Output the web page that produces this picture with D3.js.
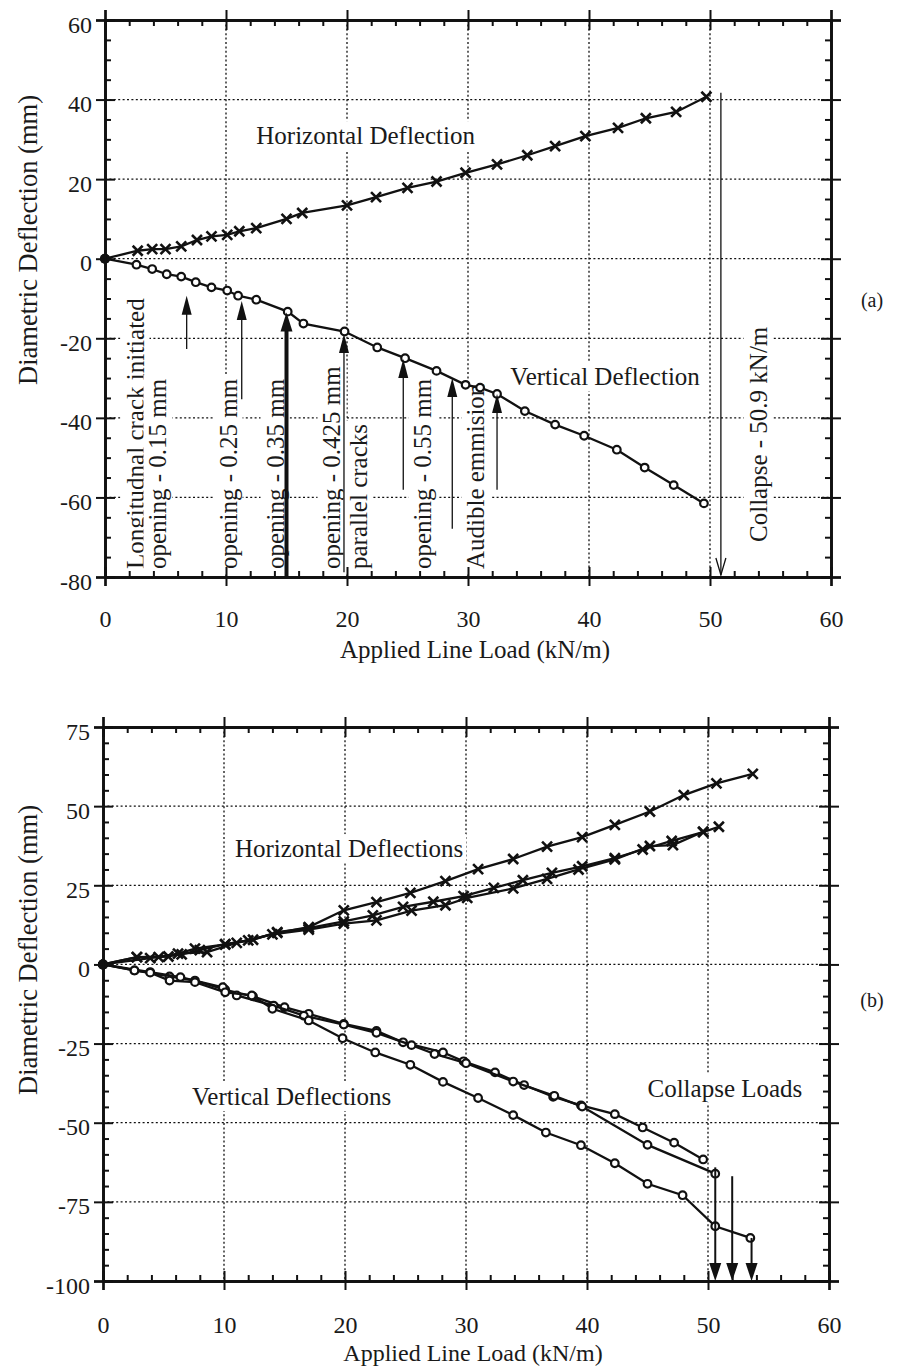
<!DOCTYPE html>
<html>
<head>
<meta charset="utf-8">
<script src="https://cdn.jsdelivr.net/npm/d3@7"></script>
<style>
body { margin: 0; background: #fff; }
svg text { font-family: "Liberation Serif", "Times New Roman", serif; fill: #1a1a1a; }
</style>
</head>
<body>
<svg id="fig" width="912" height="1368"></svg>
<script>
/* ---- panel (a): single test ---- */
var hLoadA = [0, 2.7, 3.9, 5.0, 6.3, 7.6, 8.8, 10.1, 11.1, 12.5, 15.0, 16.3, 20.0, 22.4, 25.0, 27.4, 29.8, 32.4, 34.9, 37.2, 39.7, 42.4, 44.7, 47.2, 49.7];
var hDefA  = [0, 2.0, 2.4, 2.4, 3.1, 4.7, 5.6, 6.0, 6.9, 7.7, 10.0, 11.5, 13.4, 15.5, 17.8, 19.4, 21.6, 23.7, 26.0, 28.3, 30.8, 32.9, 35.3, 36.9, 40.7];
var vLoadA = [0, 2.6, 3.9, 5.1, 6.3, 7.5, 8.8, 10.1, 11.0, 12.5, 15.1, 16.4, 19.8, 22.5, 24.8, 27.4, 29.8, 31.0, 32.4, 34.7, 37.2, 39.6, 42.3, 44.6, 47.0, 49.5];
var vDefA  = [0, -1.5, -2.6, -3.9, -4.5, -5.9, -7.2, -8.0, -9.3, -10.3, -13.3, -16.3, -18.3, -22.3, -25.0, -28.2, -31.7, -32.4, -34.0, -38.3, -41.7, -44.5, -48.0, -52.5, -56.9, -61.5];

// crack observation arrows (load, arrow tip, arrow tail)
var crackLoad = [6.75, 11.3, 15.0, 19.75, 24.65, 28.7, 32.4];
var crackTip  = [-9.3, -10.6, -13.5, -18.9, -25.2, -30.0, -34.0];
var crackTail = [-22.7, -35.3, -80, -78.8, -58.1, -67.9, -58.1];

var noteText  = ["Longitudnal crack initiated", "opening - 0.15 mm", "opening - 0.25 mm", "opening - 0.35 mm",
                 "opening - 0.425 mm", "parallel cracks", "opening - 0.55 mm", "Audible emmision", "Collapse - 50.9 kN/m"];
var noteLoad  = [2.48, 4.38, 10.17, 14.05, 18.76, 20.91, 26.28, 30.66, 53.97];
var noteStart = [-78, -78, -78, -78, -78, -78, -78, -78, -71.2];

var collapseA = {load: 50.9, from: 41.7, to: -79.5};

/* ---- panel (b): three tests ---- */
var bH1 = [[0,0],[2.8,2.3],[4.6,2.3],[6.5,3.2],[8.0,4.5],[10.1,6.4],[12.0,7.6],[14.4,10.0],[17.0,11.8],[19.9,17.1],[22.6,19.7],[25.4,22.6],[28.3,26.3],[31.0,30.1],[33.9,33.3],[36.7,37.2],[39.6,40.2],[42.3,44.1],[45.2,48.3],[48.0,53.5],[50.7,57.2],[53.7,60.2]];
var bH2 = [[0,0],[2.8,2.3],[5.4,2.5],[7.6,5.0],[10.1,6.3],[12.4,7.8],[14.4,10.2],[17.0,11.5],[19.9,13.6],[22.3,15.5],[24.8,18.2],[27.3,19.8],[29.8,21.6],[32.3,24.2],[34.7,26.6],[37.1,28.9],[39.6,31.0],[42.3,33.6],[44.6,36.3],[47.0,39.0],[49.6,41.8],[50.9,43.5]];
var bH3 = [[0,0],[3.9,2.0],[6.2,3.4],[8.6,3.9],[11.05,6.8],[14.0,9.5],[17.0,11.0],[19.9,12.9],[22.6,13.9],[25.5,17.0],[28.3,18.7],[30.1,21.0],[33.9,24.0],[36.7,27.0],[39.3,30.0],[42.3,33.2],[45.2,37.4],[47.1,37.7],[49.6,41.9]];
var bV1 = [[0,0],[2.6,-1.9],[5.5,-3.8],[7.6,-5.1],[10.1,-8.0],[12.4,-10.1],[15.0,-13.5],[17.0,-15.6],[19.9,-18.8],[22.6,-21.0],[24.8,-24.6],[28.1,-27.8],[29.8,-30.6],[32.4,-34.1],[34.8,-38.1],[37.2,-41.8],[39.5,-44.5],[42.3,-47.3],[44.6,-51.5],[47.2,-56.3],[49.6,-61.6]];
var bV2 = [[0,0],[3.9,-2.4],[6.4,-4.0],[9.9,-7.2],[11.05,-9.8],[14.1,-13.0],[16.6,-16.2],[19.9,-19.0],[22.6,-21.6],[25.5,-25.5],[27.4,-28.3],[30.0,-31.2],[33.9,-37.0],[37.3,-41.5],[39.6,-44.9],[45.0,-57.0],[50.6,-66.1]];
var bV3 = [[0,0],[2.6,-1.9],[3.9,-2.6],[5.5,-5.1],[7.6,-5.6],[10.1,-8.8],[12.3,-9.8],[14.0,-14.0],[17.0,-17.7],[19.8,-23.3],[22.5,-27.8],[25.4,-31.7],[28.1,-37.1],[31.0,-42.2],[33.9,-47.6],[36.6,-53.1],[39.5,-57.1],[42.3,-62.8],[45.0,-69.3],[47.9,-72.9],[50.6,-82.7],[53.5,-86.4]];

var collapseLoadsB = [50.6, 52.0, 53.6];
var collapseFromB  = [-64.1, -66.9, -86.4];

/* ---- tick values ---- */
var xMajor = [0, 10, 20, 30, 40, 50, 60];
var yMajorA = [-80, -60, -40, -20, 0, 20, 40, 60];
var yMajorB = [-100, -75, -50, -25, 0, 25, 50, 75];

var INK = "#111";
var svg = d3.select("#fig");

function minors(domain, step, majors) {
	// minor ticks between majors
	return d3.range(domain[0], domain[1] + 0.001, step).filter(function (v) {
		return majors.indexOf(Math.round(v * 100) / 100) < 0;
	});
}

function styleAxis(sel) {
	sel.select(".domain").attr("stroke", INK).attr("stroke-width", 2.4);
	sel.selectAll(".tick line").attr("stroke", INK).attr("stroke-width", 2);
}

function drawPanel(cfg) {
	var x = d3.scaleLinear().domain([0, 60]).range(cfg.xr);
	var y = d3.scaleLinear().domain(cfg.yd).range(cfg.yr);
	var g = svg.append("g");
	var gGrid = g.append("g"), gNote = g.append("g"), gData = g.append("g"),
		gArrow = g.append("g"), gAxis = g.append("g");

	// dotted grid
	var xIn = xMajor.slice(1, -1), yIn = cfg.yMajor.slice(1, -1);
	gGrid.selectAll("line.gx").data(xIn).enter().append("line")
		.attr("x1", x).attr("x2", x).attr("y1", cfg.yr[1]).attr("y2", cfg.yr[0]);
	gGrid.selectAll("line.gy").data(yIn).enter().append("line")
		.attr("y1", y).attr("y2", y).attr("x1", cfg.xr[0]).attr("x2", cfg.xr[1]);
	gGrid.selectAll("line").attr("stroke", INK).attr("stroke-width", 1.3)
		.attr("stroke-dasharray", "2,2.4");

	// axes: major ticks cross the frame, minor ticks point inwards
	var xMin = minors([0, 60], 2, xMajor), yMin = minors(cfg.yd, 5, cfg.yMajor);
	var H0 = cfg.yr[0], H1 = cfg.yr[1], W0 = cfg.xr[0], W1 = cfg.xr[1];
	var fmt = function (d) { return String(d); };

	var bx = gAxis.append("g").attr("transform", "translate(0," + H0 + ")")
		.call(d3.axisBottom(x).tickValues(xMajor).tickSize(9).tickFormat(fmt));
	bx.selectAll("text").attr("y", cfg.xLabOff).attr("dy", null)
		.attr("font-size", 24).attr("fill", INK);
	[[d3.axisBottom(x).tickValues(xMajor).tickSize(-10), H0], [d3.axisBottom(x).tickValues(xMin).tickSize(-6), H0],
	 [d3.axisTop(x).tickValues(xMajor).tickSize(10), H1], [d3.axisTop(x).tickValues(xMajor).tickSize(-10), H1],
	 [d3.axisTop(x).tickValues(xMin).tickSize(-6), H1]].forEach(function (a) {
		gAxis.append("g").attr("transform", "translate(0," + a[1] + ")")
			.call(a[0].tickFormat("")).call(styleAxis);
	});
	bx.call(styleAxis);

	var ly = gAxis.append("g").attr("transform", "translate(" + W0 + ",0)")
		.call(d3.axisLeft(y).tickValues(cfg.yMajor).tickSize(9).tickFormat(fmt));
	ly.selectAll("text").attr("x", -13).attr("dy", 12)
		.attr("font-size", 24).attr("fill", INK);
	ly.call(styleAxis);
	[[d3.axisLeft(y).tickValues(cfg.yMajor).tickSize(-10), W0], [d3.axisLeft(y).tickValues(yMin).tickSize(-6), W0],
	 [d3.axisRight(y).tickValues(cfg.yMajor).tickSize(10), W1], [d3.axisRight(y).tickValues(cfg.yMajor).tickSize(-10), W1],
	 [d3.axisRight(y).tickValues(yMin).tickSize(-6), W1]].forEach(function (a) {
		gAxis.append("g").attr("transform", "translate(" + a[1] + ",0)")
			.call(a[0].tickFormat("")).call(styleAxis);
	});

	// axis titles
	gAxis.append("text").attr("x", cfg.xTitle[0]).attr("y", cfg.xTitle[1])
		.attr("text-anchor", "middle").attr("font-size", cfg.xTitle[2]).text("Applied Line Load (kN/m)");
	gAxis.append("text").attr("transform", "translate(" + cfg.yTitle[0] + "," + cfg.yTitle[1] + ") rotate(-90)")
		.attr("text-anchor", "middle").attr("dominant-baseline", "central")
		.attr("font-size", 26.5).text("Diametric Deflection (mm)");
	gAxis.append("text").attr("x", 872).attr("y", cfg.tag[1]).attr("text-anchor", "middle")
		.attr("dominant-baseline", "central").attr("font-size", 20).text(cfg.tag[0]);

	return {x: x, y: y, gNote: gNote, gData: gData, gArrow: gArrow};
}

// text with a white box behind it, so the grid breaks around it
function boxedText(g, str, tx, ty, rotate) {
	var t = g.append("text")
		.attr("transform", "translate(" + tx + "," + ty + ")" + (rotate ? " rotate(-90)" : ""))
		.attr("font-size", 25).text(str);
	if (rotate) t.attr("dominant-baseline", "central");
	var b = t.node().getBBox();
	g.insert("rect", function () { return t.node(); })
		.attr("transform", t.attr("transform"))
		.attr("x", b.x - 3).attr("y", b.y - 1).attr("width", b.width + 6).attr("height", b.height + 2)
		.attr("fill", "#fff");
	return t;
}

function drawSeries(p, pts, marker) {
	var line = d3.line().x(function (d) { return p.x(d[0]); }).y(function (d) { return p.y(d[1]); });
	p.gData.append("path").datum(pts).attr("d", line)
		.attr("fill", "none").attr("stroke", INK).attr("stroke-width", 2.3);
	var m = p.gData.append("g");
	if (marker === "x") {
		m.selectAll("path").data(pts.slice(1)).enter().append("path")
			.attr("d", function (d) {
				var cx = p.x(d[0]), cy = p.y(d[1]), s = 5;
				return "M" + (cx - s) + "," + (cy - s) + "L" + (cx + s) + "," + (cy + s) +
					"M" + (cx - s) + "," + (cy + s) + "L" + (cx + s) + "," + (cy - s);
			})
			.attr("stroke", INK).attr("stroke-width", 2.6);
	} else {
		m.selectAll("circle").data(pts.slice(1)).enter().append("circle")
			.attr("cx", function (d) { return p.x(d[0]); }).attr("cy", function (d) { return p.y(d[1]); })
			.attr("r", 3.8).attr("fill", "#fff").attr("stroke", INK).attr("stroke-width", 2.2);
	}
	p.gData.append("circle").attr("cx", p.x(0)).attr("cy", p.y(0)).attr("r", 5).attr("fill", INK);
}

/* ---------- panel (a) ---------- */
var pa = drawPanel({xr: [105, 831], yd: [-80, 60], yr: [577, 20], yMajor: yMajorA,
	xLabOff: 50, xTitle: [475, 658, 25], yTitle: [28, 240], tag: ["(a)", 300]});

noteText.forEach(function (s, i) {
	boxedText(pa.gNote, s, pa.x(noteLoad[i]), pa.y(noteStart[i]), true);
});
boxedText(pa.gNote, "Horizontal Deflection", pa.x(12.5), pa.y(28.8), false);
boxedText(pa.gNote, "Vertical Deflection", pa.x(33.5), pa.y(-31.8), false);

drawSeries(pa, d3.zip(hLoadA, hDefA), "x");
drawSeries(pa, d3.zip(vLoadA, vDefA), "o");

crackLoad.forEach(function (L, i) {
	var px = pa.x(L), tip = pa.y(crackTip[i]), tail = pa.y(crackTail[i]);
	var thick = (crackTail[i] === -80);
	var hw = thick ? 6 : 5, hl = 19;
	pa.gArrow.append("line").attr("x1", px).attr("x2", px).attr("y1", tip + hl - 2).attr("y2", tail)
		.attr("stroke", INK).attr("stroke-width", thick ? 4 : 1.3);
	pa.gArrow.append("path")
		.attr("d", "M" + px + "," + tip + "L" + (px - hw) + "," + (tip + hl) + "L" + (px + hw) + "," + (tip + hl) + "Z")
		.attr("fill", INK);
});

(function () {
	var px = pa.x(collapseA.load), y0 = pa.y(collapseA.from), y1 = pa.y(collapseA.to);
	pa.gArrow.append("line").attr("x1", px).attr("x2", px).attr("y1", y0).attr("y2", y1)
		.attr("stroke", INK).attr("stroke-width", 1.3);
	pa.gArrow.append("path")
		.attr("d", "M" + (px - 5) + "," + (y1 - 17) + "L" + px + "," + y1 + "L" + (px + 5) + "," + (y1 - 17))
		.attr("fill", "none").attr("stroke", INK).attr("stroke-width", 1.3);
})();

/* ---------- panel (b) ---------- */
var pb = drawPanel({xr: [103, 829], yd: [-100, 75], yr: [1281, 727], yMajor: yMajorB,
	xLabOff: 52, xTitle: [473, 1361, 24], yTitle: [28, 950], tag: ["(b)", 1000]});

boxedText(pb.gNote, "Horizontal Deflections", pb.x(10.9), pb.y(33.9), false);
boxedText(pb.gNote, "Vertical Deflections", pb.x(7.36), pb.y(-44.4), false);
boxedText(pb.gNote, "Collapse Loads", pb.x(45.0), pb.y(-41.8), false);

[bH1, bH2, bH3].forEach(function (s) { drawSeries(pb, s, "x"); });
[bV1, bV2, bV3].forEach(function (s) { drawSeries(pb, s, "o"); });

collapseLoadsB.forEach(function (L, i) {
	var px = pb.x(L), y0 = pb.y(collapseFromB[i]), y1 = pb.y(-100);
	pb.gArrow.append("line").attr("x1", px).attr("x2", px).attr("y1", y0).attr("y2", y1 - 10)
		.attr("stroke", INK).attr("stroke-width", 2);
	pb.gArrow.append("path")
		.attr("d", "M" + px + "," + y1 + "L" + (px - 6) + "," + (y1 - 18) + "L" + (px + 6) + "," + (y1 - 18) + "Z")
		.attr("fill", INK);
});
</script>
</body>
</html>
